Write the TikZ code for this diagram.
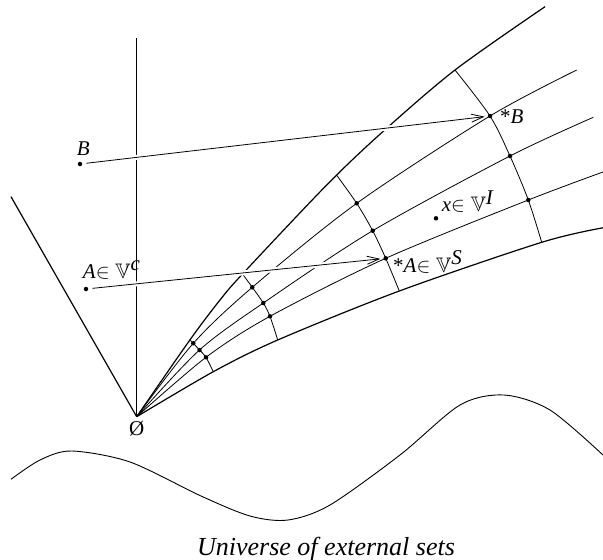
\documentclass[tikz,border=0pt]{standalone}
\usepackage{fontspec}
\setmainfont{Liberation Serif}
\usepackage{amssymb}
\usetikzlibrary{arrows.meta}
\begin{document}
\begin{tikzpicture}[x=1pt,y=-1pt,
  thickline/.style={line width=1.2pt},
  thinline/.style={line width=0.8pt},
  dot/.style={circle,fill,inner sep=0pt,minimum size=4.5pt},
  lbl/.style={font=\fontsize{21}{25}\selectfont, inner sep=0pt},
  ttl/.style={font=\fontsize{26}{30}\selectfont\itshape, inner sep=0pt},
  arr/.style={line width=0.8pt, -{Straight Barb[length=12pt,width=8pt]}, shorten <=4pt, shorten >=3pt},
  gap/.style={white, line width=5pt, shorten <=14pt, shorten >=14pt}]
\useasboundingbox (0,0) rectangle (603,560);

\coordinate (O) at (136.7,416.7);
\coordinate (top) at (136.7,38.3);
\coordinate (left) at (11,196.7);

% axes
\draw[thickline] (top) -- (O);
\draw[thickline] (left) -- (O);

% outer curves
\draw[thickline] plot[smooth] coordinates {(136.7,416.7) (190,339.8) (220,300) (242.5,274) (326.7,185) (381.7,132.7) (455,70) (545,6.7)};
\draw[thickline] plot[smooth] coordinates {(136.7,416.7) (213.3,371.7) (277.7,340) (399.3,291) (541.7,242.3) (603,227.8)};

% inner curves
\draw[thinline] plot[smooth] coordinates {(136.7,416.7) (193.3,343.3) (252.3,287.3) (356.7,203.3) (490,116) (576.7,70)};
\draw[thinline] plot[smooth] coordinates {(136.7,416.7) (199.5,350) (263.3,303) (372.7,230.7) (510,156) (593.3,117.3)};
\draw[thinline] plot[smooth] coordinates {(136.7,416.7) (206,357.3) (270,316.3) (385.7,258.3) (528.3,200) (603,172)};

% cross arcs
\draw[thinline] plot[smooth] coordinates {(190,339.8) (193.3,343.3) (199.5,350) (206,357.3) (213.3,371.7)};
\draw[thinline] plot[smooth] coordinates {(242.5,274) (252.3,287.3) (263.3,303) (270,316.3) (277.7,340)};
\draw[thinline] plot[smooth] coordinates {(336.5,175) (356.7,203.3) (372.7,230.7) (385.7,258.3) (399.3,291)};
\draw[thinline] plot[smooth] coordinates {(455,70) (490,116) (510,156) (528.3,200) (541.7,242.3)};

% intersection dots
\node[dot] (p1a) at (193.3,343.3) {};
\node[dot] (p1b) at (199.5,350) {};
\node[dot] (p1c) at (206,357.3) {};
\node[dot] (p2a) at (252.3,287.3) {};
\node[dot] (p2b) at (263.3,303) {};
\node[dot] (p2c) at (270,316.3) {};
\node[dot] (p3a) at (356.7,203.3) {};
\node[dot] (p3b) at (372.7,230.7) {};
\node[dot] (sA) at (385.7,258.3) {};
\node[dot] (sB) at (490,116) {};
\node[dot] (p4b) at (510,156) {};
\node[dot] (p4c) at (528.3,200) {};
\node[dot] (xd) at (436,218.3) {};

% source points
\node[dot] (B) at (80,164) {};
\node[dot] (A) at (86,289) {};

% arrows with gaps
\draw[gap] (B) -- (sB);
\draw[gap] (A) -- (sA);
\draw[arr] (B) -- (sB);
\draw[arr] (A) -- (sA);

% labels
\node[lbl, anchor=base] (lB) at (83.3,155) {\textit{B}};
\node[lbl, anchor=base west] (lA) at (82.7,278.3) {\textit{A}$\in\mathbb{V}^{\textit{c}}$};
\node[lbl, anchor=base west] (lsB) at (500,123.3) {*\textit{B}};
\node[lbl, anchor=base west] (lx) at (441.7,211.7) {\textit{x}$\in\mathbb{V}^{\textit{I}}$};
\node[lbl, anchor=base west] (lsA) at (393,272.5) {*\textit{A}$\in\mathbb{V}^{\textit{S}}$};
\node[lbl] (empty) at (136.7,428.3) {Ø};

% wave
\draw[line width=0.9pt] plot[smooth] coordinates {(11,479.3) (40,460) (71.7,451) (130,462) (201,496) (250,516) (288,520) (330,505) (400,455) (460,405) (504,395) (550,410) (603,455)};

\node[ttl, anchor=base] (title) at (326,555) {Universe of external sets};
\end{tikzpicture}
\end{document}
